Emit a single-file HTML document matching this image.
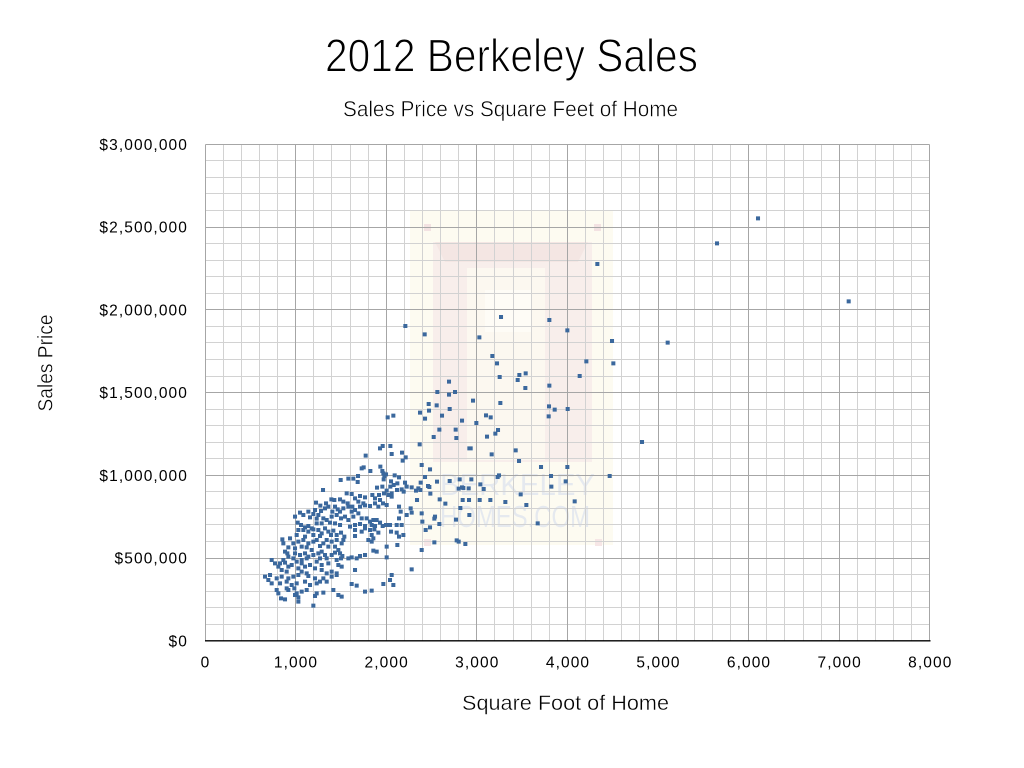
<!DOCTYPE html>
<html>
<head>
<meta charset="utf-8">
<style>
html,body{margin:0;padding:0;background:#fff;}
svg{display:block;}
text{font-family:"Liberation Sans",Arial,sans-serif;}
</style>
</head>
<body>
<svg width="1024" height="768" viewBox="0 0 1024 768" xmlns="http://www.w3.org/2000/svg">
<rect width="1024" height="768" fill="#fff"/>

<!-- Titles -->
<text x="325" y="71.7" font-size="46" fill="#000" stroke="#fff" stroke-width="1.1" textLength="373" lengthAdjust="spacingAndGlyphs">2012 Berkeley Sales</text>
<text x="343" y="116.7" font-size="22" fill="#000" stroke="#fff" stroke-width="0.5" textLength="335" lengthAdjust="spacingAndGlyphs">Sales Price vs Square Feet of Home</text>

<!-- Watermark -->
<g>
<rect x="410" y="210" width="203" height="335" fill="#fdfbf1"/>
<rect x="433" y="242" width="159" height="220" fill="#f8eeeb"/>
<polygon points="435,242 588,242 578,262 445,262" fill="#f4e6e3"/>
<rect x="467" y="268" width="78" height="192" fill="#fcf8f0"/>
<rect x="485" y="290" width="47" height="42" fill="#fefcf6"/>
<rect x="424" y="224" width="7" height="7" fill="#f3e2e2"/>
<rect x="594" y="224" width="7" height="7" fill="#f3e2e2"/>
<rect x="424" y="539" width="7" height="7" fill="#f6e6e6"/>
<rect x="595" y="539" width="7" height="7" fill="#f6e6e6"/>
<text x="440" y="495" font-size="31" fill="#e5e9ef" textLength="155" lengthAdjust="spacingAndGlyphs">BERKELEY</text>
<text x="440" y="527" font-size="31" fill="#e5e9ef" textLength="150" lengthAdjust="spacingAndGlyphs">HOMES.COM</text>
</g>

<!-- Grid -->
<g shape-rendering="crispEdges" fill="none">
<path stroke="#d2d2d2" stroke-width="1" d="M223.5 144.5V640.5M241.5 144.5V640.5M259.5 144.5V640.5M277.5 144.5V640.5M313.5 144.5V640.5M331.5 144.5V640.5M350.5 144.5V640.5M368.5 144.5V640.5M404.5 144.5V640.5M422.5 144.5V640.5M440.5 144.5V640.5M458.5 144.5V640.5M494.5 144.5V640.5M513.5 144.5V640.5M531.5 144.5V640.5M549.5 144.5V640.5M585.5 144.5V640.5M603.5 144.5V640.5M621.5 144.5V640.5M639.5 144.5V640.5M676.5 144.5V640.5M694.5 144.5V640.5M712.5 144.5V640.5M730.5 144.5V640.5M766.5 144.5V640.5M784.5 144.5V640.5M803.5 144.5V640.5M821.5 144.5V640.5M857.5 144.5V640.5M875.5 144.5V640.5M893.5 144.5V640.5M911.5 144.5V640.5
M205.5 624.5H929.5M205.5 607.5H929.5M205.5 591.5H929.5M205.5 574.5H929.5M205.5 541.5H929.5M205.5 524.5H929.5M205.5 508.5H929.5M205.5 491.5H929.5M205.5 458.5H929.5M205.5 442.5H929.5M205.5 425.5H929.5M205.5 409.5H929.5M205.5 376.5H929.5M205.5 359.5H929.5M205.5 342.5H929.5M205.5 326.5H929.5M205.5 293.5H929.5M205.5 276.5H929.5M205.5 260.5H929.5M205.5 243.5H929.5M205.5 210.5H929.5M205.5 193.5H929.5M205.5 177.5H929.5M205.5 160.5H929.5"/>
<path stroke="#a6a6a6" stroke-width="1" d="M295.5 144.5V640.5M386.5 144.5V640.5M476.5 144.5V640.5M567.5 144.5V640.5M658.5 144.5V640.5M748.5 144.5V640.5M839.5 144.5V640.5M205.5 144.5V640.5M929.5 144.5V640.5
M205.5 558.5H929.5M205.5 475.5H929.5M205.5 392.5H929.5M205.5 309.5H929.5M205.5 227.5H929.5M205.5 144.5H929.5"/>
</g>
<line x1="205" y1="640.8" x2="930.5" y2="640.8" stroke="#000" stroke-width="1.4"/>

<!-- Data points -->
<g fill="none" stroke="#3b689d" stroke-linecap="square">
<g transform="translate(255,440) scale(0.33333)" stroke-width="12">
<path d="M383 18h.1M375 25h.1M406 18h.1M494 13h.1M410 42h.1M441 38h.1M452 52h.1M443 62h.1M332 47h.1M500 75h.1M326 82h.1M320 85h.1M376 80h.1M346 93h.1M382 93h.1M385 100h.1M388 108h.1M257 120h.1M280 116h.1M295 116h.1M309 108h.1M308 126h.1M393 103h.1M419 106h.1M432 112h.1M386 118h.1M408 124h.1M450 128h.1M455 140h.1M470 142h.1M490 145h.1M497 128h.1M366 143h.1M382 140h.1M406 140h.1M416 135h.1M427 130h.1M440 148h.1M446 155h.1M426 150h.1M410 160h.1M395 152h.1M387 160h.1M483 152h.1M204 150h.1M496 150h.1M275 160h.1M290 162h.1M300 175h.1M315 168h.1M330 172h.1M352 165h.1M360 175h.1M372 165h.1M375 180h.1M384 190h.1M400 165h.1M410 170h.1M229 178h.1M238 180h.1M255 178h.1M265 185h.1M278 190h.1M213 190h.1M183 188h.1M196 197h.1M486 180h.1M310 185h.1M325 190h.1M180 210h.1M198 213h.1M210 205h.1M220 200h.1M240 200h.1M248 208h.1M255 215h.1M265 205h.1M280 200h.1M292 200h.1M300 210h.1M315 200h.1M330 196h.1M345 198h.1M360 190h.1M370 200h.1M395 195h.1M432 200h.1M437 215h.1M467 205h.1M470 218h.1M500 220h.1M135 218h.1M160 215h.1M175 222h.1M190 225h.1M232 215h.1M290 215h.1M310 220h.1M120 230h.1M145 225h.1M165 232h.1M185 236h.1M205 235h.1M215 240h.1M230 230h.1M245 225h.1M258 235h.1M270 230h.1M280 240h.1M295 230h.1M320 235h.1M335 235h.1M345 245h.1M355 240h.1M365 240h.1M375 248h.1M432 235h.1M455 225h.1M128 248h.1M138 255h.1M150 262h.1M160 258h.1M170 265h.1M185 250h.1M200 250h.1M225 248h.1M240 250h.1M255 255h.1M300 255h.1M315 252h.1M330 258h.1M350 255h.1M360 258h.1M383 258h.1M393 255h.1M405 255h.1M425 255h.1M440 255h.1M502 245h.1M130 270h.1M145 270h.1M160 275h.1M175 268h.1M190 270h.1M210 265h.1M220 275h.1M235 272h.1M245 285h.1M258 278h.1M268 290h.1M285 260h.1M300 270h.1M320 275h.1M330 265h.1M345 270h.1M358 268h.1M370 278h.1M408 275h.1M425 278h.1M432 290h.1M445 285h.1M105 295h.1M125 285h.1M150 290h.1M175 285h.1M195 288h.1M200 280h.1M228 285h.1M300 288h.1M350 285h.1M355 295h.1M82 298h.1M85 310h.1M100 322h.1M115 310h.1M130 305h.1M145 300h.1M160 310h.1M175 305h.1M185 300h.1M215 300h.1M230 305h.1M245 300h.1M260 310h.1M265 300h.1M120 325h.1M140 320h.1M155 322h.1M170 330h.1M195 318h.1M205 310h.1M220 320h.1M240 320h.1M250 330h.1M340 300h.1M350 305h.1M395 320h.1M427 315h.1M500 330h.1M97 340h.1M90 335h.1M120 340h.1M135 345h.1M150 340h.1M160 350h.1M175 345h.1M190 340h.1M200 335h.1M210 345h.1M230 345h.1M240 338h.1M255 340h.1M262 348h.1M280 355h.1M290 352h.1M305 355h.1M315 348h.1M330 345h.1M355 332h.1M365 335h.1M395 352h.1M100 350h.1M85 360h.1M115 355h.1M140 360h.1M155 355h.1M195 355h.1M215 355h.1M245 360h.1M258 355h.1M50 360h.1M60 370h.1M75 370h.1M90 368h.1M100 380h.1M110 375h.1M125 365h.1M140 370h.1M150 380h.1M165 375h.1M185 365h.1M200 375h.1M220 370h.1M250 375h.1M260 380h.1M180 385h.1M80 390h.1M95 395h.1M130 385h.1M140 395h.1M155 400h.1M200 390h.1M215 400h.1M230 395h.1M245 400h.1M300 390h.1M470 388h.1M70 380h.1M30 410h.1M45 405h.1M40 420h.1M65 415h.1M80 410h.1M100 415h.1M115 410h.1M130 405h.1M160 408h.1M180 415h.1M205 415h.1M230 410h.1M245 405h.1M410 405h.1M405 420h.1M385 432h.1M415 435h.1M50 430h.1M75 430h.1M95 425h.1M110 435h.1M125 430h.1M150 425h.1M165 435h.1M185 430h.1M195 425h.1M215 425h.1M290 432h.1M305 437h.1M65 450h.1M70 460h.1M95 445h.1M100 450h.1M118 445h.1M125 460h.1M140 455h.1M155 450h.1M185 460h.1M205 458h.1M235 450h.1M250 465h.1M330 455h.1M350 452h.1M78 475h.1M90 478h.1M120 465h.1M130 472h.1M180 468h.1M260 470h.1M130 485h.1M175 497h.1"/>
</g>
<g transform="translate(420,380) scale(0.33333)" stroke-width="12">
<path d="M87 5h.1M293 0h.1M388 17h.1M316 24h.1M52 36h.1M87 44h.1M105 36h.1M159 62h.1M241 69h.1M26 72h.1M50 76h.1M387 79h.1M404 89h.1M443 87h.1M89 87h.1M27 92h.1M66 107h.1M198 106h.1M212 112h.1M386 109h.1M15 116h.1M126 122h.1M169 129h.1M58 149h.1M107 149h.1M234 150h.1M226 161h.1M41 171h.1M109 174h.1M201 170h.1M148 205h.1M152 205h.1M287 211h.1M215 223h.1M297 243h.1M30 268h.1M363 261h.1M442 261h.1M15 291h.1M237 286h.1M233 291h.1M154 298h.1M119 298h.1M89 303h.1M51 305h.1M393 288h.1M569 288h.1M437 304h.1M24 318h.1M28 321h.1M181 313h.1M116 326h.1M126 322h.1M130 324h.1M146 325h.1M191 327h.1M394 320h.1M31 341h.1M302 343h.1M59 358h.1M128 360h.1M147 360h.1M179 360h.1M211 360h.1M256 366h.1M464 364h.1M76 371h.1M319 375h.1M121 384h.1M148 405h.1M45 410h.1M43 416h.1M108 419h.1M58 432h.1M30 442h.1M17 450h.1M353 430h.1M43 487h.1M110 481h.1M116 485h.1M136 492h.1"/>
</g>
<g transform="translate(400,195) scale(0.33333)" stroke-width="12">
<path d="M592 207h.1M16 393h.1M74 418h.1M303 366h.1M448 375h.1M502 406h.1M238 427h.1M636 438h.1M277 483h.1M291 505h.1M559 499h.1M640 505h.1M299 546h.1M358 540h.1M377 535h.1M539 543h.1"/>
</g>
<g transform="translate(300,300) scale(0.33333)" stroke-width="12">
<path d="M263 352h.1M280 347h.1M360 338h.1"/>
</g>
<g transform="translate(600,200) scale(0.33333)" stroke-width="12">
<path d="M474 55h.1M351 130h.1M746 304h.1M203 428h.1M126 726h.1"/>
</g>
</g>

<!-- Y axis labels -->
<g font-size="15.5" fill="#000" text-anchor="end" letter-spacing="1.1">
<text x="188" y="150">$3,000,000</text>
<text x="188" y="232.7">$2,500,000</text>
<text x="188" y="315.5">$2,000,000</text>
<text x="188" y="398.2">$1,500,000</text>
<text x="188" y="480.9">$1,000,000</text>
<text x="188" y="563.7">$500,000</text>
<text x="188" y="646.4">$0</text>
</g>

<!-- X axis labels -->
<g font-size="15.5" fill="#000" text-anchor="middle" letter-spacing="1.1">
<text x="205.5" y="667.5">0</text>
<text x="296" y="667.5">1,000</text>
<text x="386.7" y="667.5">2,000</text>
<text x="477.3" y="667.5">3,000</text>
<text x="568" y="667.5">4,000</text>
<text x="658.5" y="667.5">5,000</text>
<text x="749" y="667.5">6,000</text>
<text x="839.7" y="667.5">7,000</text>
<text x="930.3" y="667.5">8,000</text>
</g>

<!-- Axis titles -->
<text x="462" y="710" font-size="21.5" fill="#000" stroke="#fff" stroke-width="0.4" textLength="207" lengthAdjust="spacingAndGlyphs">Square Foot of Home</text>
<text transform="translate(52.5,363) rotate(-90)" x="-48.5" y="0" font-size="21.5" fill="#000" stroke="#fff" stroke-width="0.4" textLength="97" lengthAdjust="spacingAndGlyphs">Sales Price</text>
</svg>
</body>
</html>
